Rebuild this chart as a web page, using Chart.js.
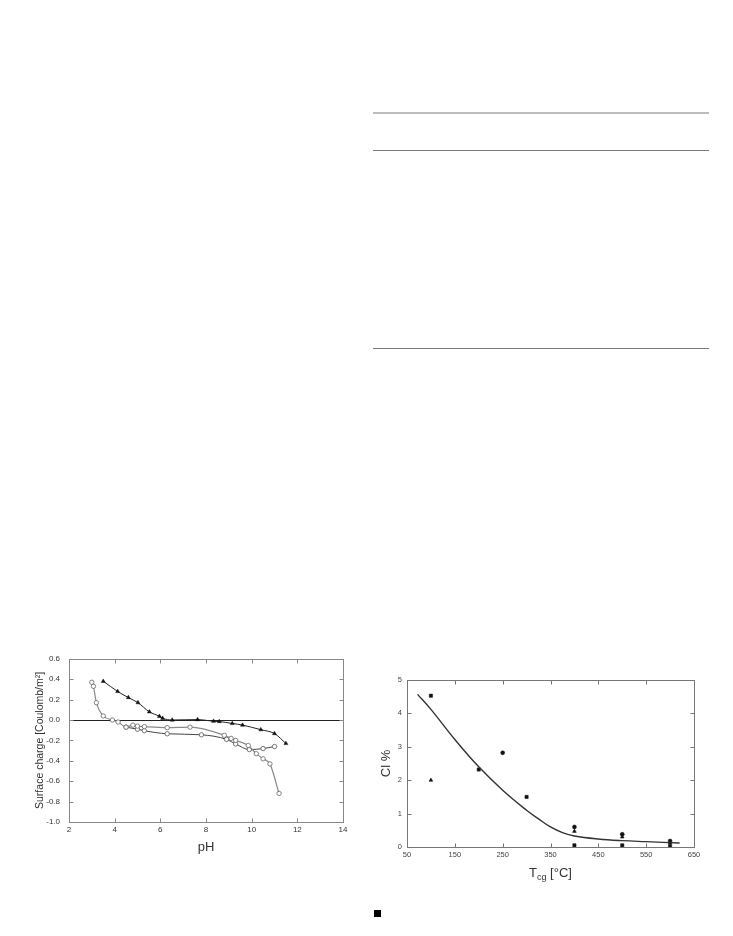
<!DOCTYPE html>
<html>
<head>
<meta charset="utf-8">
<script src="https://cdn.jsdelivr.net/npm/chart.js@4.4.1/dist/chart.umd.min.js"></script>
<style>
  html, body { margin: 0; padding: 0; background: #fff; }
  body { width: 733px; height: 936px; position: relative; overflow: hidden; }
  .rule { position: absolute; left: 373px; width: 336px; }
  #chargeBox { position: absolute; left: 20px; top: 645px; width: 340px; height: 225px; }
  #chlorBox { position: absolute; left: 360px; top: 665px; width: 350px; height: 225px; }
  #mark { position: absolute; left: 374px; top: 910px; width: 7px; height: 7px; background: #000; }
</style>
</head>
<body>
<div class="rule" style="top:112px;height:2px;background:#bdbdbd"></div>
<div class="rule" style="top:150px;height:1px;background:#7a7a7a"></div>
<div class="rule" style="top:348px;height:1px;background:#7a7a7a"></div>
<div id="chargeBox"><canvas id="chargeChart" width="340" height="225"></canvas></div>
<div id="chlorBox"><canvas id="chlorChart" width="350" height="225"></canvas></div>
<div id="mark"></div>
<script>
  // surface charge vs pH
  const phTicks = ['2', '4', '6', '8', '10', '12', '14'];
  const chargeTicks = ['-1.0', '-0.8', '-0.6', '-0.4', '-0.2', '0.0', '0.2', '0.4', '0.6'];

  const phTri = [3.5, 4.13, 4.6, 5.02, 5.52, 5.96, 6.1, 6.52, 7.63, 8.33, 8.58, 9.15, 9.6, 10.4, 11.0, 11.5];
  const qTri = [0.38, 0.28, 0.22, 0.17, 0.08, 0.036, 0.017, 0.0, 0.004, -0.012, -0.015, -0.034, -0.05, -0.095, -0.133, -0.23];

  const phGrey = [3.0, 3.07, 3.2, 3.5, 3.9, 4.15, 4.5, 4.8, 5.0, 5.3, 6.3, 7.3, 8.8, 9.1, 9.3, 9.85, 10.2, 10.5, 10.8, 11.2];
  const qGrey = [0.37, 0.33, 0.17, 0.04, 0.0, -0.02, -0.07, -0.05, -0.06, -0.065, -0.075, -0.07, -0.15, -0.18, -0.2, -0.25, -0.33, -0.38, -0.43, -0.72];

  const phOpen = [4.5, 5.0, 5.3, 6.3, 7.8, 8.9, 9.3, 9.9, 10.5, 11.0];
  const qOpen = [-0.07, -0.09, -0.105, -0.135, -0.145, -0.19, -0.235, -0.29, -0.28, -0.26];

  // chlorine content vs gasification temperature
  const tempTicks = ['50', '150', '250', '350', '450', '550', '650'];
  const clTicks = ['0', '1', '2', '3', '4', '5'];

  const tempSq = [100, 200, 300, 400, 500, 600];
  const clSq = [4.53, 2.32, 1.5, 0.05, 0.05, 0.03];
  const tempDot = [250, 400, 500, 600];
  const clDot = [2.82, 0.6, 0.38, 0.18];
  const tempTri = [100, 400, 500, 600];
  const clTri = [2.0, 0.47, 0.3, 0.12];
  const tempFit = [72, 100, 150, 200, 250, 300, 325, 350, 375, 400, 450, 500, 550, 620];
  const clFit = [4.57, 4.12, 3.22, 2.4, 1.7, 1.1, 0.84, 0.6, 0.43, 0.33, 0.24, 0.19, 0.16, 0.12];

  const pts = (xs, ys) => xs.map((x, i) => ({ x: x, y: ys[i] }));
  const FONT = "'Liberation Sans', Arial, sans-serif";

  // box round the plot with short inward ticks on every side
  const frame = {
    id: 'frame',
    beforeDatasetsDraw(chart, args, opts) {
      if (!opts.zero) return;
      const { ctx, chartArea: a, scales } = chart;
      const y0 = Math.round(scales.y.getPixelForValue(0)) + 0.5;
      ctx.save();
      ctx.strokeStyle = '#222';
      ctx.lineWidth = 1;
      ctx.beginPath();
      ctx.moveTo(a.left, y0);
      ctx.lineTo(a.right, y0);
      ctx.stroke();
      ctx.restore();
    },
    afterDatasetsDraw(chart, args, opts) {
      const { ctx, chartArea: a, scales } = chart;
      const L = Math.round(a.left) + 0.5, R = Math.round(a.right) + 0.5;
      const T = Math.round(a.top) + 0.5, B = Math.round(a.bottom) + 0.5;
      ctx.save();
      ctx.strokeStyle = opts.color || '#777';
      ctx.lineWidth = 1;
      ctx.strokeRect(L, T, R - L, B - T);
      ctx.beginPath();
      scales.x.ticks.forEach(t => {
        const px = Math.round(scales.x.getPixelForValue(t.value)) + 0.5;
        ctx.moveTo(px, B); ctx.lineTo(px, B - 4);
        ctx.moveTo(px, T); ctx.lineTo(px, T + 4);
      });
      scales.y.ticks.forEach(t => {
        const py = Math.round(scales.y.getPixelForValue(t.value)) + 0.5;
        ctx.moveTo(L, py); ctx.lineTo(L + 4, py);
        ctx.moveTo(R, py); ctx.lineTo(R - 4, py);
      });
      ctx.stroke();
      ctx.restore();
    }
  };

  // x title with subscript: T_cg [°C]
  const subTitle = {
    id: 'subTitle',
    afterDraw(chart) {
      const { ctx, chartArea: a } = chart;
      const cx = (a.left + a.right) / 2;
      const y = a.bottom + 30;
      ctx.save();
      ctx.fillStyle = '#333';
      ctx.textBaseline = 'alphabetic';
      const big = '13px ' + FONT, small = '9px ' + FONT;
      ctx.font = big;
      const wT = ctx.measureText('T').width;
      const wRest = ctx.measureText(' [°C]').width;
      ctx.font = small;
      const wSub = ctx.measureText('cg').width;
      let x = cx - (wT + wSub + wRest) / 2;
      ctx.font = big;
      ctx.fillText('T', x, y);
      x += wT;
      ctx.font = small;
      ctx.fillText('cg', x, y + 3);
      x += wSub;
      ctx.font = big;
      ctx.fillText(' [°C]', x, y);
      ctx.restore();
    }
  };

  new Chart(document.getElementById('chargeChart'), {
    type: 'scatter',
    data: {
      datasets: [
        {
          data: pts(phTri, qTri),
          showLine: true,
          cubicInterpolationMode: 'monotone',
          borderColor: '#222',
          borderWidth: 1,
          pointStyle: 'triangle',
          pointRadius: 2.3,
          pointBackgroundColor: '#111',
          pointBorderColor: '#111',
          pointBorderWidth: 0.5
        },
        {
          data: pts(phGrey, qGrey),
          showLine: true,
          cubicInterpolationMode: 'monotone',
          borderColor: '#8a8a8a',
          borderWidth: 1.2,
          pointStyle: 'circle',
          pointRadius: 2.2,
          pointBackgroundColor: '#fff',
          pointBorderColor: '#666',
          pointBorderWidth: 0.8
        },
        {
          data: pts(phOpen, qOpen),
          showLine: true,
          cubicInterpolationMode: 'monotone',
          borderColor: '#444',
          borderWidth: 1,
          pointStyle: 'circle',
          pointRadius: 2.2,
          pointBackgroundColor: '#fff',
          pointBorderColor: '#555',
          pointBorderWidth: 0.8
        }
      ]
    },
    options: {
      responsive: false,
      animation: false,
      layout: { padding: { top: 10, right: 17, left: 0, bottom: 0 } },
      scales: {
        x: {
          type: 'linear',
          min: 2,
          max: 14,
          afterFit: s => { s.height = 48; },
          grid: { display: false, drawTicks: false },
          border: { display: false },
          ticks: {
            stepSize: 2,
            padding: 3,
            color: '#333',
            font: { family: FONT, size: 8 },
            callback: (v, i) => phTicks[i]
          },
          title: {
            display: true,
            text: 'pH',
            color: '#333',
            font: { family: FONT, size: 13 },
            padding: { top: 0, bottom: 15 }
          }
        },
        y: {
          type: 'linear',
          min: -1.0,
          max: 0.6,
          afterFit: s => { s.width = 49; },
          grid: { display: false, drawTicks: false },
          border: { display: false },
          ticks: {
            stepSize: 0.2,
            padding: 9,
            color: '#333',
            font: { family: FONT, size: 8 },
            callback: (v, i) => chargeTicks[i]
          },
          title: {
            display: true,
            text: 'Surface charge [Coulomb/m²]',
            color: '#333',
            font: { family: FONT, size: 10.5 },
            padding: { top: 14, bottom: 0 }
          }
        }
      },
      plugins: {
        legend: { display: false },
        tooltip: { enabled: false },
        frame: { color: '#888', zero: true }
      }
    },
    plugins: [frame]
  });

  new Chart(document.getElementById('chlorChart'), {
    type: 'scatter',
    data: {
      datasets: [
        {
          data: pts(tempFit, clFit),
          showLine: true,
          tension: 0.4,
          borderColor: '#333',
          borderWidth: 1.4,
          pointRadius: 0
        },
        {
          data: pts(tempSq, clSq),
          pointStyle: 'rect',
          pointRadius: 2.3,
          pointBackgroundColor: '#111',
          pointBorderColor: '#111',
          pointBorderWidth: 0.5
        },
        {
          data: pts(tempDot, clDot),
          pointStyle: 'circle',
          pointRadius: 2,
          pointBackgroundColor: '#111',
          pointBorderColor: '#111',
          pointBorderWidth: 0.5
        },
        {
          data: pts(tempTri, clTri),
          pointStyle: 'triangle',
          pointRadius: 2.2,
          pointBackgroundColor: '#111',
          pointBorderColor: '#111',
          pointBorderWidth: 0.5
        }
      ]
    },
    options: {
      responsive: false,
      animation: false,
      layout: { padding: { top: 15, right: 16, left: 0, bottom: 0 } },
      scales: {
        x: {
          type: 'linear',
          min: 50,
          max: 650,
          afterFit: s => { s.height = 43; },
          grid: { display: false, drawTicks: false },
          border: { display: false },
          ticks: {
            stepSize: 100,
            padding: 3,
            color: '#444',
            font: { family: FONT, size: 7.5 },
            callback: (v, i) => tempTicks[i]
          }
        },
        y: {
          type: 'linear',
          min: 0,
          max: 5,
          afterFit: s => { s.width = 47; },
          grid: { display: false, drawTicks: false },
          border: { display: false },
          ticks: {
            stepSize: 1,
            padding: 5,
            color: '#444',
            font: { family: FONT, size: 7.5 },
            callback: (v, i) => clTicks[i]
          },
          title: {
            display: true,
            text: 'Cl %',
            color: '#333',
            font: { family: FONT, size: 13 },
            padding: { top: 19, bottom: 0 }
          }
        }
      },
      plugins: {
        legend: { display: false },
        tooltip: { enabled: false },
        frame: { color: '#777' }
      }
    },
    plugins: [frame, subTitle]
  });
</script>
</body>
</html>
